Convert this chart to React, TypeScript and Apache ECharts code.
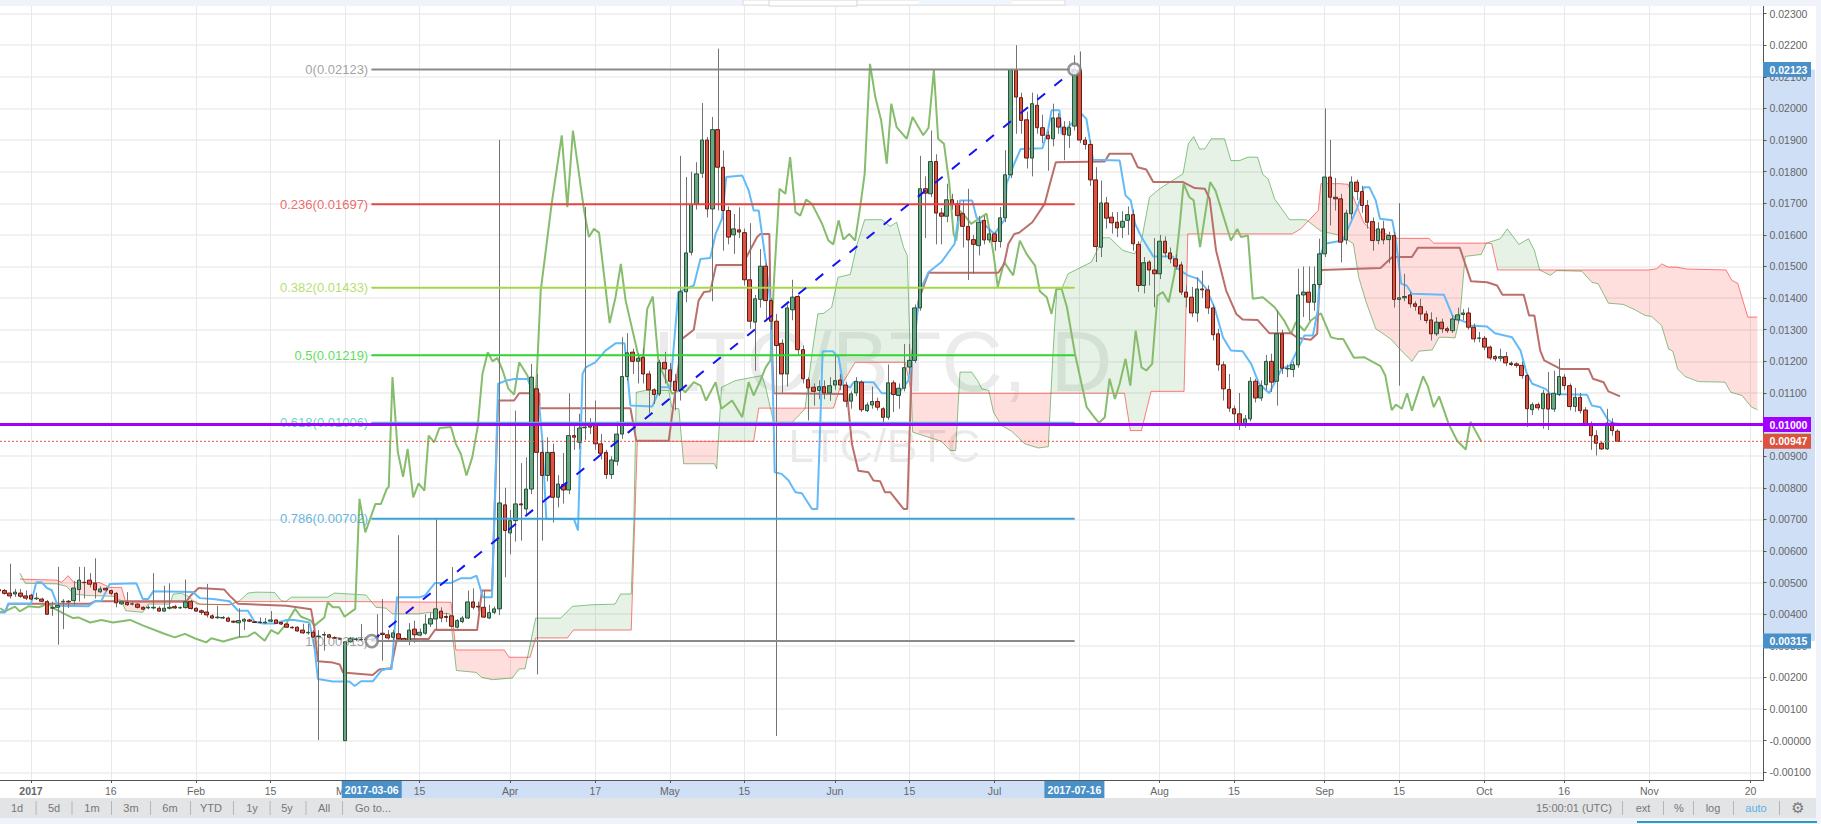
import React, { useEffect, useRef } from "react";
import * as echarts from "echarts";

// All prices in the lists below are in thousandths of BTC (multiplied by MILLI when drawn).
const MILLI = 0.001;
const FONT = "'Liberation Sans', Arial, sans-serif";

// [day since 2017-01-01, open, close, low, high]
const candles: number[][] = [
[-6,4.78,4.74,4.7,4.82],[-5,4.75,4.66,4.62,4.8],[-4,4.67,4.58,4.5,5.6],[-3,4.64,4.7,4.55,4.8],[-2,4.67,4.57,4.52,4.8],[-1,4.58,4.51,4.45,4.75],
[0,4.6,4.48,4.45,4.65],[1,4.49,4.51,4.45,4.68],[2,4.48,4.41,4.38,4.52],[3,4.4,4.0,3.98,4.45],[4,4.19,4.21,3.95,4.4],[5,4.22,4.28,3.04,5.5],[6,4.39,4.41,3.53,4.48],[7,4.41,4.39,4.2,4.45],[8,4.43,4.83,4.3,5.05],[9,4.78,5.08,4.4,5.5],
[10,5.01,5.0,4.5,5.5],[11,5.08,4.95,4.85,5.3],[12,4.98,4.77,4.5,5.77],[13,4.71,4.8,4.68,4.88],[14,4.82,4.77,4.72,4.85],[15,4.75,4.66,4.6,4.78],[16,4.66,4.36,4.22,4.7],[17,4.33,4.39,4.3,4.42],[18,4.37,4.3,4.27,4.7],[19,4.32,4.33,4.28,4.38],
[20,4.32,4.22,4.18,4.35],[21,4.22,4.16,4.13,4.25],[22,4.2,4.22,4.16,4.28],[23,4.2,4.22,4.15,5.3],[24,4.19,4.1,4.08,4.25],[25,4.1,4.19,4.08,4.9],[26,4.19,4.22,4.15,4.98],[27,4.24,4.2,4.17,4.3],[28,4.2,4.21,4.17,4.25],[29,4.21,4.39,4.18,5.1],
[30,4.41,4.18,4.15,4.45],[31,4.19,4.1,4.07,4.22],[32,4.11,4.06,3.98,4.15],[33,4.07,3.98,3.9,4.96],[34,3.95,3.88,3.85,4.0],[35,3.89,3.91,3.85,4.27],[36,3.88,3.9,3.85,3.94],[37,3.88,3.78,3.75,3.92],[38,3.78,3.75,3.72,3.8],[39,3.73,3.8,3.27,4.19],
[40,3.78,3.84,3.5,3.88],[41,3.82,3.78,3.75,3.86],[42,3.76,3.74,3.72,3.78],[43,3.75,3.74,3.71,3.9],[44,3.73,3.75,3.7,3.88],[45,3.78,3.82,3.75,4.1],[46,3.82,3.71,3.69,3.84],[47,3.74,3.69,3.66,3.76],[48,3.69,3.59,3.57,3.72],[49,3.59,3.57,3.55,3.62],
[50,3.59,3.47,3.45,3.62],[51,3.5,3.41,3.38,3.7],[52,3.41,3.43,3.35,3.7],[53,3.43,3.28,3.25,3.5],[54,3.29,3.31,0.02,3.5],[55,3.34,3.36,2.85,3.45],[56,3.35,3.27,3.24,3.38],[57,3.26,3.24,3.22,3.3],[58,3.23,3.21,3.18,3.26],[59,0,3.13,0,3.15],
[60,3.13,3.24,3.1,3.28],[61,3.2,3.22,3.15,3.26],[62,3.2,3.21,3.15,3.69],[63,3.21,3.2,3.15,3.26],[64,3.2,3.22,3.15,3.28],[65,3.27,3.3,3.2,4.0],[66,3.4,3.36,2.53,4.48],[67,3.35,3.25,3.2,3.5],[68,3.27,3.41,3.15,3.5],[69,3.38,3.23,3.18,6.5],
[70,3.23,3.17,3.15,3.26],[71,3.17,3.5,3.02,3.72],[72,3.53,3.35,3.1,3.8],[73,3.34,3.43,3.3,3.55],[74,3.4,3.69,3.35,4.0],[75,3.69,3.86,3.6,4.05],[76,3.85,4.17,3.52,7.0],[77,4.1,3.88,3.75,4.22],[78,3.93,3.9,3.75,4.05],[79,3.95,3.62,3.6,5.49],
[80,3.59,3.8,3.55,3.85],[81,3.77,3.88,3.72,3.95],[82,3.88,4.39,3.85,4.75],[83,4.39,4.22,4.15,4.82],[84,4.25,4.23,4.1,4.4],[85,4.22,3.91,3.88,4.75],[86,3.88,4.05,3.85,4.3],[87,4.06,4.17,4.0,4.25],[88,4.17,7.52,3.97,19.0],[89,7.46,6.65,5.17,8.0],
[90,6.57,6.96,5.9,7.3],[91,6.96,7.49,6.3,10.44],[92,7.49,7.46,6.33,8.78],[93,7.33,7.96,7.15,8.96],[94,7.96,11.5,7.8,11.92],[95,11.13,9.12,2.1,11.6],[96,9.12,8.39,6.33,9.5],[97,8.39,9.12,8.2,9.6],[98,9.12,7.7,6.9,9.4],[99,7.7,8.12,7.38,8.4],
[100,8.1,7.93,7.5,9.1],[101,7.93,9.65,7.8,10.99],[102,9.65,9.6,9.2,9.95],[103,9.44,9.89,9.23,10.34],[104,9.9,9.92,9.5,16.88],[105,9.97,9.92,9.7,10.2],[106,9.97,9.39,9.2,10.76],[107,9.39,9.09,8.9,9.7],[108,9.12,8.42,8.28,9.2],[109,8.42,8.88,8.28,9.0],
[110,8.84,9.7,8.7,10.1],[111,9.7,11.52,9.55,12.76],[112,11.52,12.27,11.39,12.89],[113,12.29,12.0,11.6,12.4],[114,12.0,12.1,11.3,12.25],[115,12.13,11.6,11.3,12.4],[116,11.6,11.1,10.35,11.7],[117,11.1,10.95,10.65,11.15],[118,10.97,11.97,10.9,12.05],[119,11.97,11.76,11.3,12.3],
[120,11.73,11.37,11.1,11.95],[121,11.37,11.08,10.45,11.6],[122,11.1,14.2,10.76,18.5],[123,14.2,15.43,13.87,17.83],[124,15.45,16.96,15.35,18.0],[125,16.98,17.93,16.8,18.3],[126,17.95,19.0,17.8,20.17],[127,19.0,16.82,16.55,19.1],[128,16.82,19.33,13.9,19.73],[129,19.33,18.14,16.77,21.89],
[130,18.14,16.77,15.5,18.67],[131,16.77,15.93,15.7,16.9],[132,16.0,16.19,15.4,16.66],[133,16.16,16.09,15.9,16.87],[134,16.07,14.58,14.4,16.2],[135,14.58,13.27,13.03,16.37],[136,13.24,13.98,11.7,14.1],[137,13.96,15.01,13.7,15.55],[138,15.01,13.92,13.3,15.1],[139,13.92,13.27,13.0,14.0],
[140,13.27,12.5,0.15,13.5],[141,12.57,11.6,11.0,12.7],[142,11.6,13.69,11.2,13.8],[143,13.63,14.03,13.3,14.58],[144,14.05,12.37,12.2,14.1],[145,12.37,11.45,11.3,12.5],[146,11.42,11.16,10.13,11.5],[147,11.18,11.05,10.6,11.3],[148,11.08,11.2,10.8,11.4],[149,11.2,11.0,10.8,11.4],
[150,11.0,11.23,10.75,11.5],[151,11.25,11.39,11.1,12.2],[152,11.41,11.25,11.1,11.6],[153,11.25,10.74,10.55,11.35],[154,10.74,10.97,10.5,11.05],[155,11.0,11.37,10.9,11.5],[156,11.34,10.47,10.4,11.4],[157,10.44,10.62,10.4,10.7],[158,10.62,10.73,10.5,11.2],[159,10.73,10.55,10.45,10.85],
[160,10.5,10.23,10.05,10.55],[161,10.23,11.32,10.15,11.9],[162,11.32,10.95,10.4,11.4],[163,10.92,11.15,10.5,11.3],[164,11.15,11.8,11.05,12.55],[165,11.82,12.03,11.6,12.55],[166,12.03,13.69,11.95,13.8],[167,13.69,17.46,13.6,18.5],[168,17.46,17.32,15.9,17.85],[169,17.3,18.32,17.2,19.3],
[170,18.32,16.69,15.7,18.55],[171,16.69,16.59,15.7,16.85],[172,16.59,17.11,16.4,17.62],[173,17.11,16.96,16.8,17.3],[174,16.98,16.61,16.45,17.1],[175,16.67,16.27,15.6,17.09],[176,16.27,15.84,14.57,17.46],[177,15.85,15.7,14.77,16.0],[178,15.66,16.4,15.35,16.6],[179,16.46,15.84,15.7,16.6],
[180,15.84,16.03,15.75,16.2],[181,16.03,15.79,15.5,16.1],[182,15.79,16.54,15.6,16.88],[183,16.54,17.9,16.4,18.68],[184,17.9,21.22,17.8,21.25],[185,21.2,20.36,19.2,22.0],[186,20.34,19.62,19.2,20.5],[187,19.64,18.43,18.1,19.9],[188,18.43,20.15,17.85,20.5],[189,20.1,19.39,19.2,20.45],
[190,19.39,19.15,18.9,19.8],[191,19.15,19.04,18.03,19.3],[192,19.04,19.7,18.8,20.15],[193,19.7,19.41,19.2,19.85],[194,19.41,19.17,18.36,19.6],[195,19.15,19.39,18.75,19.6],[196,19.44,21.22,19.3,21.68],[197,21.22,19.0,18.9,21.8],[198,19.0,18.86,18.7,19.1],[199,18.86,17.74,17.55,19.0],
[200,17.74,15.63,15.14,18.14],[201,15.61,17.01,15.3,17.72],[202,17.01,16.53,16.2,17.2],[203,16.56,16.38,16.04,16.72],[204,16.4,16.22,15.93,16.72],[205,16.24,16.43,15.9,16.75],[206,16.46,16.64,16.0,16.9],[207,16.64,15.72,15.5,16.8],[208,15.7,14.4,14.2,15.8],[209,14.4,15.12,14.15,15.3],
[210,15.14,14.89,14.4,15.2],[211,14.89,14.77,13.71,15.9],[212,14.77,15.8,14.6,16.0],[213,15.8,15.43,15.3,15.95],[214,15.43,15.24,15.1,15.6],[215,15.24,15.01,14.9,15.4],[216,15.05,14.19,14.1,15.15],[217,14.19,14.03,13.71,14.4],[218,14.03,13.53,13.4,14.35],[219,13.53,14.29,13.24,14.66],
[220,14.29,14.26,14.0,14.87],[221,14.26,13.69,13.5,14.4],[222,13.69,12.84,12.66,13.8],[223,12.87,11.89,11.7,13.03],[224,11.89,11.13,10.76,12.0],[225,11.11,10.52,10.4,11.6],[226,10.5,10.34,9.97,10.6],[227,10.34,10.0,9.83,11.0],[228,10.0,10.18,9.9,10.3],[229,10.18,11.37,10.1,11.5],
[230,11.37,10.84,10.7,11.45],[231,10.84,11.23,10.75,11.4],[232,11.26,12.0,11.1,12.2],[233,12.0,11.34,11.03,12.24],[234,11.37,12.87,10.6,13.61],[235,12.87,11.78,11.6,13.0],[236,11.76,11.78,11.5,11.9],[237,11.74,11.89,11.5,12.0],[238,11.89,14.1,11.8,14.93],[239,14.1,14.19,13.4,15.0],
[240,14.19,13.87,13.29,15.0],[241,13.87,14.43,13.6,15.0],[242,14.43,15.4,14.3,15.88],[243,15.4,17.83,15.3,20.0],[244,17.83,17.19,16.3,19.0],[245,17.19,17.14,16.77,17.8],[246,17.14,15.77,15.13,17.3],[247,15.84,16.69,15.7,16.8],[248,16.67,17.67,16.5,17.85],[249,17.67,17.37,17.1,17.75],
[250,17.37,16.93,16.7,17.55],[251,16.93,16.4,16.2,17.1],[252,16.42,15.82,15.5,16.55],[253,15.82,16.19,15.7,16.4],[254,16.19,15.84,15.7,16.45],[255,15.85,15.98,15.1,16.1],[256,15.98,13.96,13.7,16.1],[257,13.96,14.01,11.23,17.0],[258,14.01,14.05,13.9,14.77],[259,14.1,13.82,13.7,14.2],
[260,13.82,13.74,13.6,13.9],[261,13.73,13.5,13.3,13.98],[262,13.5,13.29,13.2,13.6],[263,13.31,12.87,12.66,13.55],[264,12.87,13.24,12.8,13.4],[265,13.24,13.03,12.9,13.35],[266,13.03,12.97,12.9,13.1],[267,12.97,13.34,12.9,13.45],[268,13.31,13.47,13.2,13.7],[269,13.48,13.53,13.3,13.65],
[270,13.53,13.08,13.0,13.7],[271,13.08,12.71,12.6,13.2],[272,12.73,12.74,12.6,12.93],[273,12.73,12.45,12.35,12.8],[274,12.45,12.11,12.05,12.5],[275,12.15,12.08,12.0,12.2],[276,12.1,12.15,12.0,12.4],[277,12.15,11.95,11.85,12.3],[278,11.94,11.9,11.85,12.0],[279,11.92,11.87,11.8,11.97],
[280,11.87,11.55,11.45,12.0],[281,11.55,10.5,9.92,11.6],[282,10.47,10.63,10.3,10.7],[283,10.63,10.53,10.45,10.7],[284,10.5,10.99,9.87,11.1],[285,10.97,10.49,9.83,11.66],[286,10.49,10.99,10.4,11.7],[287,10.95,11.52,10.9,12.08],[288,11.5,11.23,11.1,11.6],[289,11.23,10.57,10.45,11.3],
[290,10.57,10.86,10.4,11.16],[291,10.86,10.44,10.35,11.0],[292,10.46,10.02,9.98,10.55],[293,10.02,9.65,9.2,10.1],[294,9.65,9.41,9.02,9.82],[295,9.41,9.23,9.2,9.45],[296,9.23,10.05,9.2,10.5],[297,10.05,9.81,9.65,10.2],[298,9.79,9.47,9.47,9.85],
];

// Ichimoku lines, vertices: [day, price]
const tenkan: number[][] = [
[-5.8,4.06],[-4.9,4.06],[-4.25,4.33],[0,4.33],[1,5.01],[2,5.01],[3,4.83],[3.9,4.76],[5,4.27],[10.75,4.25],[12,4.41],[13.25,4.43],[14.8,4.96],[19.8,4.98],[21,4.48],[22,4.48],[23,4.73],[30.4,4.7],[31.7,4.51],[34.2,4.48],[37.3,4.41],[38.9,4.11],[40.75,4.11],[42,3.76],[43.6,3.71],[45.75,3.71],[48,3.82],[49.5,3.82],[52.3,3.74],[53.25,2.95],[53.9,1.95],[56.7,1.87],[59.8,1.87],[60.8,1.73],[62,1.88],[64.2,1.88],[65.8,2.22],[66.7,2.27],[67.75,2.27],[68.75,4.54],[72.9,4.54],[74,4.59],[75.9,4.99],[78.9,4.99],[80.8,5.14],[82.6,5.14],[83.7,5.22],[84.9,4.54],[86.6,4.54],[87.75,11.29],[89.2,11.39],[90.75,11.44],[93.3,11.44],[95.5,10.55],[96.06,9.49],[96.8,7.01],[102,7.01],[102.75,6.65],[103.6,11.6],[104.2,11.81],[106,11.97],[107.9,12.34],[109.8,12.57],[111.5,12.57],[112.6,10.6],[116.7,10.57],[118.25,11.18],[120.1,11.18],[121.6,14.19],[124.5,14.4],[125.75,15.24],[127.6,15.27],[128.6,16.03],[129.8,16.51],[130.6,17.83],[133.6,17.88],[134.8,17.41],[135.75,16.77],[136.7,16.77],[138,15.19],[138.9,13.82],[139.5,10.13],[139.7,8.49],[141,8.44],[142.3,8.23],[143.6,7.86],[144.8,7.83],[146.7,7.33],[147.7,7.33],[148.3,10.23],[148.7,12.32],[150.6,12.32],[151.7,12.13],[152.6,11.23],[153.9,11.18],[154.5,11.34],[158.25,11.34],[159.8,10.99],[163,10.99],[164.8,11.39],[165.75,12.24],[166.6,13.71],[167.3,14.35],[168.6,14.82],[171,15.14],[173.5,15.72],[174.2,16.56],[174.5,17.09],[176.8,17.09],[177.6,16.56],[181,16.03],[183,16.51],[183.25,17.62],[184.7,18.25],[185.9,18.72],[190,18.74],[191.1,19.36],[191.7,19.94],[193.2,19.94],[193.6,19.2],[197.3,19.83],[198.25,19.67],[199.5,18.38],[204.5,18.35],[205.6,17.25],[206.6,17.09],[207.4,16.35],[208.6,15.93],[210.8,15.32],[214.5,15.32],[215.4,14.93],[217.3,14.72],[219.2,14.61],[220.8,14.29],[222.3,13.71],[223.9,12.76],[225.4,12.34],[227.6,12.32],[229.2,11.92],[230.7,11.29],[232.6,10.99],[234.9,11.76],[236.5,11.87],[239.2,12.82],[240.8,12.82],[241.7,13.61],[242.3,15.4],[243,15.72],[245.6,15.8],[246.4,15.82],[249.2,16.88],[250.4,17.51],[251.4,17.51],[252.6,17.09],[253.4,16.51],[255.7,16.46],[256.3,15.93],[257.4,14.45],[258.4,14.4],[259.4,14.14],[265.4,14.11],[267,13.45],[267.9,13.34],[269.5,13.24],[270.4,13.13],[273.5,13.1],[275,12.89],[278.2,12.76],[279.8,12.34],[281,11.6],[282,11.29],[284.5,11.13],[285.4,10.97],[292.3,10.94],[293.2,10.6],[294.8,10.55],[296.3,10.13],[297.3,10.04],[298.5,10.02],
];
const kijun: number[][] = [
[-5.8,4.06],[-4.9,4.06],[-4.25,4.33],[11,4.33],[12,4.41],[29.2,4.41],[30,4.59],[31.5,4.83],[36.3,4.78],[37.3,4.59],[38.9,4.33],[48,4.27],[52.6,4.16],[53.25,3.54],[53.9,2.51],[56.7,2.47],[58,2.41],[58.6,2.16],[64.2,2.08],[65.4,2.25],[67.6,2.29],[68.75,3.22],[74.7,3.22],[75.9,3.51],[83.8,3.5],[84.7,4.75],[86.6,4.75],[87.75,10.76],[90.75,10.76],[91.7,10.99],[95.5,10.99],[95.5,10.52],[112.6,10.52],[113.7,9.49],[119.8,9.49],[122.3,12.71],[124.5,13],[125.4,13.92],[126.4,14.19],[127.6,14.22],[128.7,15.05],[133.6,15.05],[136.4,15.93],[137,16.03],[138.7,16.03],[138.9,13.82],[139.5,10.99],[153.3,10.97],[154.2,9.39],[155.4,8.54],[157.3,8.49],[158.25,8.23],[159.5,8.21],[160.4,7.86],[161.4,7.86],[163.9,7.33],[164.6,7.33],[165.5,12.2],[166.7,13.9],[167.6,14.35],[168.6,14.8],[181.7,14.8],[182.8,15.08],[183.6,15.72],[184.7,16.03],[185.6,16.07],[188.1,16.4],[190.4,16.98],[191.4,17.62],[192.5,18.3],[201.7,18.32],[202.6,18.57],[206.7,18.57],[207.9,18.14],[209.5,18.07],[210.8,17.67],[216.4,17.67],[218.6,17.48],[220.5,17.46],[221.4,17.14],[222.6,15.51],[224.5,14.24],[226.4,13.5],[227.6,13.32],[230.4,13.31],[232.6,12.89],[236.7,12.89],[237.9,12.74],[240.4,12.68],[241.6,12.87],[242,14.35],[242.4,14.89],[253.5,14.95],[255.7,15.3],[259.4,15.3],[260.5,15.59],[268.4,15.59],[270.5,14.53],[273.5,14.5],[275.4,14.4],[276.4,14.11],[280.4,14.11],[281.4,13.45],[282.4,13.45],[283.5,12.34],[284.25,12.03],[287.3,11.76],[292.6,11.76],[293.4,11.45],[295.4,11.34],[296.3,11.05],[298.5,10.89],
];
const chikou: number[][] = [
[-5.8,4.19],[-4.9,4.09],[-3,4.24],[-2.1,4.09],[-0.5,4.25],[1.4,4.22],[2.3,4.27],[2.9,4.38],[4.5,4.17],[6.1,4.03],[7.9,3.88],[8.9,3.9],[11.1,3.74],[13.25,3.82],[15.4,3.74],[18.6,3.82],[21.1,3.64],[24.8,3.4],[27,3.27],[28.9,3.38],[30.75,3.24],[32.9,3.11],[33.9,3.24],[36.1,3.14],[38.9,3.27],[40.75,3.3],[42,3.43],[43.9,3.16],[45.1,3.5],[46.4,3.38],[47.9,3.69],[49.6,4.17],[50.75,3.92],[52.6,3.8],[53.25,3.64],[55.1,3.9],[55.75,4.38],[56.7,4.22],[57.9,4.22],[58.9,3.92],[60.9,4.17],[61.7,7.65],[62.8,6.59],[64.7,7.49],[65.75,7.49],[66.8,7.96],[67.2,8.03],[67.9,11.5],[68.9,9.13],[69.9,8.35],[70.75,9.23],[71.8,7.7],[72.8,8.14],[73.9,7.91],[74.7,9.65],[75.75,9.44],[76.7,9.89],[78.9,9.92],[79.8,9.39],[80.75,9.07],[81.8,8.39],[82.9,8.97],[83.9,9.92],[84.8,11.6],[85.8,12.29],[86.7,12],[87.6,12.11],[88.6,11.71],[89.7,11.13],[90.75,10.95],[91.7,11.97],[93.25,11.55],[94.2,10.97],[94.9,11.18],[95.75,14.24],[97.8,16.98],[99.7,19.15],[100.75,16.88],[101.8,19.3],[103.9,16.77],[104.8,15.93],[105.75,16.19],[106.7,16.07],[108.7,13.21],[109.8,14.03],[110.8,15.08],[111.7,13.92],[114,12.24],[114.9,11.92],[115.75,13.66],[116.8,14.05],[117.9,11.92],[119.2,11.44],[120.4,10.97],[122.3,11.13],[122.9,11.02],[124.5,11.34],[125.75,11.23],[126.8,10.76],[128.6,11.34],[129.7,10.5],[131.7,10.76],[133.6,10.23],[134.8,11.34],[135.75,10.92],[137,11.39],[138,11.81],[138.9,12.03],[139.6,14.66],[140.6,17.46],[141.7,17.3],[142.6,18.46],[143.6,16.72],[144.5,16.61],[145.6,17.12],[146.7,16.98],[148.6,16.35],[149.8,15.82],[150.7,15.7],[151.7,16.46],[152.6,15.85],[153.7,16.03],[154.8,15.82],[155.75,16.88],[156.6,17.93],[157.6,21.41],[158.6,20.36],[159.7,19.62],[160.75,18.25],[161.6,20.15],[162.6,19.41],[164.5,19.04],[165.6,19.73],[167.6,19.15],[168.6,19.39],[169.6,21.22],[170.4,19.04],[171.5,18.88],[172.5,17.62],[173.3,16.03],[173.8,15.82],[174.5,16.77],[175.6,16.56],[176.6,16.35],[179.5,16.67],[180.8,15.4],[181.6,14.35],[182.8,15.14],[184.5,14.72],[185.75,15.82],[187,15.4],[188.6,15.03],[189.5,14.22],[190.8,14.03],[191.7,13.5],[192.6,14.29],[193.6,14.29],[194.6,13.71],[196.1,12.24],[198.3,10.55],[199.5,10.28],[200.6,10.05],[201.7,10.23],[202.6,11.45],[203.6,10.81],[204.5,11.29],[205.6,12.08],[206.5,11.23],[207.5,12.97],[208.6,11.81],[209.5,11.71],[210.6,11.92],[211.6,14.08],[212.6,14.19],[213.7,13.87],[214.8,14.77],[215.75,16.25],[216.5,17.62],[217.6,17.19],[218.4,17.09],[219.6,15.61],[221.5,17.67],[222.5,17.4],[225.4,15.82],[226.6,16.19],[227.3,15.93],[228.6,15.98],[229.5,13.98],[231.4,14.03],[233.6,13.71],[235.4,13.29],[236.7,12.87],[237.6,13.24],[239.2,12.97],[240.4,13.29],[242.3,13.52],[244.2,12.76],[245.4,12.71],[246.5,12.71],[248.5,12.11],[250.4,12.13],[253.5,11.85],[254.4,11.55],[255.6,10.46],[256.4,10.63],[257.5,10.5],[258.5,10.99],[259.4,10.44],[261.5,11.53],[262.4,11.21],[263.5,10.55],[264.5,10.89],[266.3,10.02],[267.9,9.49],[269.5,9.21],[270.4,10.09],[272.4,9.47],
];
const spanA: number[][] = [
[-2.06,5.3],[-1.1,4.98],[4.8,4.96],[6.7,4.88],[8,4.64],[10.75,4.59],[15.4,4.57],[17,4.43],[17.8,4.11],[21,4.06],[22,4.32],[26.1,4.32],[26.7,4.64],[28.3,4.66],[29.8,4.54],[31.1,4.32],[37.3,4.3],[39.2,4.43],[40.75,4.67],[42.3,4.7],[45.75,4.69],[47,4.43],[47.9,4.41],[48.9,4.54],[55.75,4.54],[57,4.67],[62.9,4.61],[64.8,4.22],[66.7,4.19],[67.9,4.01],[72.8,4.01],[74.8,4.06],[78.7,4.01],[79.5,2.85],[79.9,2.22],[83.6,2.16],[84.7,2.0],[86.7,1.93],[90.4,1.98],[91.7,2.27],[92.8,2.27],[94.8,3.88],[99.5,3.88],[101.7,4.25],[105.4,4.3],[109.7,4.32],[110.75,4.64],[112.75,4.64],[113.25,6.96],[113.7,11.02],[115.4,11.08],[119.8,11.08],[120.4,10.53],[121.7,10.5],[122.6,8.76],[128.4,8.76],[128.8,8.6],[129.7,11.18],[132.3,11.39],[137.3,11.55],[138,11.18],[139.5,10.07],[143,10.07],[145.4,10.5],[146.7,12.24],[147.8,13.5],[148.9,13.52],[150.4,13.71],[151.6,14.66],[153.9,14.75],[155.2,15.72],[156.6,16.48],[159.8,16.48],[161.4,16.27],[162.6,16.4],[163.9,15.61],[164.6,15.35],[165.6,9.76],[171,9.47],[172.7,9.18],[173.7,9.18],[174.5,11.66],[176.7,11.66],[178,11.34],[178.6,11.13],[179.9,11.08],[180.8,10.39],[182.3,9.97],[184.2,9.79],[186.7,9.39],[189.2,9.26],[191.1,9.3],[191.9,12.03],[192.7,14.29],[193.6,14.29],[194.8,14.77],[199.2,15.14],[201.4,15.91],[202.6,15.91],[205.1,15.51],[207.3,15.4],[208.6,15.82],[210.1,17.19],[212,17.46],[216.4,17.93],[217.4,18.88],[218.4,19.11],[219.5,18.72],[220.5,18.72],[221.7,19.04],[224.2,19.04],[225.4,18.35],[227,18.35],[228.6,18.46],[230.4,18.46],[231.4,17.91],[232.4,17.77],[233.6,17.14],[236.4,16.48],[239.5,16.48],[242.3,16.12],[246,15.98],[248.4,15.72],[249.4,14.66],[250.7,13.92],[252.6,13.03],[255.4,12.71],[257.4,12.34],[259.4,12],[260.7,12.32],[263.2,12.36],[264.5,12.76],[266,12.76],[267.5,12.74],[268.4,13.4],[269.4,15.32],[272.4,15.38],[273.4,15.74],[276,15.88],[277.3,16.19],[279.5,15.7],[281.3,15.88],[282.4,15.51],[283.4,14.89],[285.4,14.72],[286.6,14.87],[291.3,14.85],[293.2,14.5],[294.4,14.45],[296.3,13.84],[299.1,13.8],[301.3,13.63],[303.2,13.45],[304.4,13.42],[306.3,13.13],[307.6,12.39],[308.4,12.32],[309.3,11.76],[310.7,11.52],[313.2,11.36],[318.2,11.34],[319.3,11.02],[321.4,10.92],[323.2,10.55],[324.3,10.47],
];
const spanB: number[][] = [
[-2.06,5.11],[4.8,5.08],[5.75,5.01],[7,5.22],[8,5.01],[12.9,5],[14.8,4.85],[17,4.85],[17.8,4.38],[29.2,4.38],[30.75,4.41],[31.7,4.32],[37.3,4.3],[38.9,4.4],[59.8,4.4],[78.9,4.38],[79.8,2.87],[88.9,2.87],[89.8,2.64],[93.75,2.64],[94.8,3.25],[100.75,3.25],[101.9,3.5],[112.75,3.5],[113.9,9.47],[135.75,9.47],[136.7,10.52],[150.75,10.52],[152,11.18],[154.8,11.97],[164.2,11.97],[165.4,10.99],[205.4,10.99],[206.5,9.81],[208.6,9.81],[210.4,11.05],[216.6,11.05],[217.3,16.03],[236.9,16.03],[238.5,16.19],[241.8,16.77],[242.3,17.62],[245.8,17.62],[247.4,17.6],[250.4,16.37],[251.6,16.19],[256,15.95],[256.6,15.89],[262.6,15.89],[263.5,15.74],[273.5,15.74],[274.4,15.72],[275.5,14.89],[303.8,14.89],[305.4,14.93],[306.3,15.08],[307.6,14.98],[309.1,14.98],[311.1,14.92],[318.4,14.89],[319.5,14.56],[320.6,14.47],[322.5,13.4],[324.3,13.4],
];

// Fibonacci retracement drawn between these two days
const fibStartDay = 64;
const fibEndDay = 196;
const fibRatios = ["0", "0.236", "0.382", "0.5", "0.618", "0.786", "1"];
const fibPrices = [0.02123, 0.01697, 0.01433, 0.01219, 0.01006, 0.00702, 0.00315];
const fibColors = ["#8a8a8a", "#e64545", "#a5d648", "#2fd62f", "#35c9b0", "#3aa3d6", "#8a8a8a"];

const horizontalLevel = 0.01;
const lastPrice = 0.00947;

// Axes
const dayMin = -5.823;
const dayMax = 325.44;
const priceMin = -0.001243;
const priceMax = 0.02324;
const xTickDays = [0, 15, 31, 45, 59, 73, 90, 106, 120, 134, 151, 165, 181, 197, 212, 226, 243, 257, 273, 288, 304, 323];
const xTickLabels = ["2017", "16", "Feb", "15", "Mar", "15", "Apr", "17", "May", "15", "Jun", "15", "Jul", "17", "Aug", "15", "Sep", "15", "Oct", "16", "Nov", "20"];
const priceTicks = [-0.001, 0, 0.001, 0.002, 0.003, 0.004, 0.005, 0.006, 0.007, 0.008, 0.009, 0.01, 0.011, 0.012, 0.013, 0.014, 0.015, 0.016, 0.017, 0.018, 0.019, 0.02, 0.021, 0.022, 0.023];

// Toolbars
const rangeButtons = ["1d", "5d", "1m", "3m", "6m", "YTD", "1y", "5y", "All", "Go to..."];
const rangeCenters = [17, 54, 92, 131, 170, 211, 252, 287, 324, 373];
const rangeSeparators = [35.6, 71.5, 111, 150, 190, 233, 269.6, 305.5, 342];
const rightButtons = ["15:00:01 (UTC)", "ext", "%", "log", "auto"];
const rightCenters = [1574, 1643, 1679, 1713, 1756];
const rightSeparators = [1622, 1663, 1693, 1733, 1779];

const UP = "#6ba583";
const UP_BORDER = "#225437";
const DOWN = "#d75442";
const DOWN_BORDER = "#6b1a12";
const WICK = "#737375";
const TAG_BLUE = "#4a90c8";
const BAND = "#cfdff6";

function interp(line: number[][], d: number): number {
  for (let i = 1; i < line.length; i++) {
    if (d <= line[i][0]) {
      const [d0, v0] = line[i - 1];
      const [d1, v1] = line[i];
      return d1 === d0 ? v1 : v0 + ((v1 - v0) * (d - d0)) / (d1 - d0);
    }
  }
  return line[line.length - 1][1];
}

// Split the space between the two spans into polygons of one colour each.
function buildKumo() {
  const days = Array.from(new Set([...spanA.map((p) => p[0]), ...spanB.map((p) => p[0])])).sort((a, b) => a - b);
  const runs: { up: boolean; top: number[][]; bottom: number[][] }[] = [];
  let cur: { up: boolean; top: number[][]; bottom: number[][] } | null = null;
  for (let i = 0; i < days.length; i++) {
    const d = days[i];
    const a = interp(spanA, d);
    const b = interp(spanB, d);
    const up = a >= b;
    if (cur && cur.up !== up) {
      const pd = days[i - 1];
      const pa = interp(spanA, pd);
      const pb = interp(spanB, pd);
      const t = (pb - pa) / (a - pa - (b - pb));
      const cd = pd + t * (d - pd);
      const cv = pa + t * (a - pa);
      cur.top.push([cd, cv]);
      cur.bottom.push([cd, cv]);
      runs.push(cur);
      cur = { up, top: [[cd, cv]], bottom: [[cd, cv]] };
    }
    if (!cur) cur = { up, top: [], bottom: [] };
    cur.top.push([d, a]);
    cur.bottom.push([d, b]);
  }
  if (cur) runs.push(cur);
  return runs;
}

const scaled = (pts: number[][]) => pts.map(([d, v]) => [d, v * MILLI]);

const lineSeries = (name: string, pts: number[][], color: string, width: number, z: number) => ({
  name,
  type: "line",
  data: scaled(pts),
  showSymbol: false,
  symbol: "none",
  smooth: false,
  silent: true,
  z,
  lineStyle: { color, width },
  itemStyle: { color },
});

export default function App() {
  const ref = useRef<HTMLDivElement>(null);
  useEffect(() => {
    const chart = echarts.init(ref.current as HTMLDivElement, undefined, { renderer: "svg" });
    const runs = buildKumo();

    const fibSeries = fibPrices.map((price, i) => ({
      name: `fib ${fibRatios[i]}`,
      type: "line",
      silent: true,
      z: 8,
      showSymbol: true,
      showAllSymbol: true,
      symbol: "circle",
      symbolSize: 1,
      itemStyle: { color: fibColors[i] },
      lineStyle: { color: fibColors[i], width: 2 },
      data: [
        {
          value: [fibStartDay, price],
          label: {
            show: true,
            position: "left",
            distance: 3,
            formatter: `${fibRatios[i]}(${price.toFixed(5)})`,
            color: fibColors[i],
            opacity: 0.8,
            fontFamily: FONT,
            fontSize: 13,
          },
        },
        { value: [fibEndDay, price] },
      ],
    }));

    chart.setOption({
      animation: false,
      backgroundColor: "#ffffff",
      grid: { left: 0, top: 6, right: 57.5, bottom: 44, containLabel: false },
      xAxis: {
        type: "value",
        min: dayMin,
        max: dayMax,
        axisLine: { show: true, onZero: false, lineStyle: { color: "#555", width: 1 } },
        axisTick: { show: true, length: 3, customValues: xTickDays, lineStyle: { color: "#555" } },
        splitLine: { show: true, lineStyle: { color: "#e9e9e9", width: 1 } },
        axisLabel: {
          customValues: xTickDays,
          color: "#666",
          fontFamily: FONT,
          fontSize: 10.5,
          margin: 5,
          formatter: (v: number) => {
            const s = xTickLabels[xTickDays.indexOf(Math.round(v))] ?? "";
            return s === "2017" ? `{b|${s}}` : s;
          },
          rich: { b: { fontWeight: "bold", color: "#666", fontFamily: FONT, fontSize: 10.5 } },
        },
      },
      yAxis: {
        type: "value",
        position: "right",
        min: priceMin,
        max: priceMax,
        axisLine: { show: true, onZero: false, lineStyle: { color: "#555", width: 1 } },
        axisTick: { show: true, length: 3, customValues: priceTicks, lineStyle: { color: "#555" } },
        splitLine: { show: true, lineStyle: { color: "#ededed", width: 1.5 } },
        axisLabel: {
          customValues: priceTicks,
          color: "#666",
          fontFamily: FONT,
          fontSize: 10.5,
          margin: 6,
          formatter: (v: number) => (Math.abs(v) < 1e-9 ? "-0.00000" : v.toFixed(5)),
        },
      },
      series: [
        {
          name: "kumo",
          type: "custom",
          silent: true,
          z: 1,
          clip: true,
          data: runs.map((r, i) => [r.top[0][0], r.top[0][1] * MILLI, i]),
          renderItem: (params: any, api: any) => {
            const r = runs[params.dataIndex];
            const pts = [...r.top, ...r.bottom.slice().reverse()].map(([d, v]) => api.coord([d, v * MILLI]));
            return {
              type: "polygon",
              shape: { points: pts },
              style: { fill: r.up ? "rgba(0,128,0,0.1)" : "rgba(255,0,0,0.13)", stroke: "none" },
            };
          },
        },
        lineSeries("Senkou A", spanA, "rgba(0,128,0,0.45)", 1, 2),
        lineSeries("Senkou B", spanB, "rgba(255,0,0,0.5)", 1, 2),
        lineSeries("Chikou", chikou, "#86bd6d", 2, 3),
        lineSeries("Kijun", kijun, "#bb6f6b", 2, 3),
        lineSeries("Tenkan", tenkan, "#62bbf8", 2, 3),
        {
          name: "wicks",
          type: "custom",
          silent: true,
          z: 4,
          data: candles.map((c) => [c[0], c[3] * MILLI, c[4] * MILLI]),
          encode: { x: 0, y: [1, 2] },
          renderItem: (_: any, api: any) => {
            const a = api.coord([api.value(0), api.value(1)]);
            const b = api.coord([api.value(0), api.value(2)]);
            const x = Math.round(a[0]) + 0.5;
            return {
              type: "line",
              shape: { x1: x, y1: a[1], x2: x, y2: b[1] },
              style: { stroke: WICK, lineWidth: 1 },
            };
          },
        },
        {
          name: "LTC/BTC",
          type: "candlestick",
          silent: true,
          z: 5,
          barWidth: 4,
          itemStyle: { color: UP, color0: DOWN, borderColor: UP_BORDER, borderColor0: DOWN_BORDER, borderWidth: 1 },
          encode: { x: 0, y: [1, 2, 3, 4] },
          // Wicks are drawn by the series above in their own grey, so the body spans open to close only.
          data: candles.map(([d, o, c]) => [d, o * MILLI, c * MILLI, Math.min(o, c) * MILLI, Math.max(o, c) * MILLI]),
        },
        ...fibSeries,
        {
          name: "trend",
          type: "line",
          silent: true,
          z: 9,
          showSymbol: false,
          symbol: "none",
          lineStyle: { color: "#1414f0", width: 2, type: [10, 12] },
          data: [
            [fibStartDay, fibPrices[6]],
            [fibEndDay, fibPrices[0]],
          ],
        },
        {
          name: "anchors",
          type: "scatter",
          silent: true,
          z: 10,
          symbol: "circle",
          symbolSize: 12,
          itemStyle: { color: "#ffffff", borderColor: "#7c7c7c", borderWidth: 2.5 },
          data: [
            [fibStartDay, fibPrices[6]],
            [fibEndDay, fibPrices[0]],
          ],
        },
        {
          name: "last price",
          type: "line",
          silent: true,
          z: 6,
          showSymbol: false,
          symbol: "none",
          lineStyle: { color: "#e2553f", width: 1, type: [2, 2] },
          data: [
            [dayMin, lastPrice],
            [dayMax, lastPrice],
          ],
        },
        {
          name: "level",
          type: "line",
          silent: true,
          z: 9,
          showSymbol: false,
          symbol: "none",
          lineStyle: { color: "#a000ff", width: 3 },
          data: [
            [dayMin, horizontalLevel],
            [dayMax, horizontalLevel],
          ],
        },
      ],
    });

    const px = (d: number, p: number) => chart.convertToPixel({ xAxisIndex: 0, yAxisIndex: 0 }, [d, p]) as number[];
    const [axisX] = px(dayMax, 0);
    const [, axisY] = px(0, priceMin);

    const priceTag = (price: number, color: string) => {
      const y = px(0, price)[1];
      return [
        { type: "rect", z: 60, shape: { x: axisX - 0.5, y: y - 7.5, width: 48, height: 15 }, style: { fill: color } },
        {
          type: "text",
          z: 61,
          x: axisX + 6,
          y,
          style: { text: price.toFixed(5), fill: "#fff", font: `bold 10.5px ${FONT}`, textAlign: "left", textVerticalAlign: "middle" },
        },
      ];
    };
    const dateTag = (day: number, label: string) => {
      const x = px(day, 0)[0];
      return [
        { type: "rect", z: 60, shape: { x: x - 30, y: axisY + 1, width: 60, height: 17 }, style: { fill: TAG_BLUE } },
        {
          type: "text",
          z: 61,
          x,
          y: axisY + 10,
          style: { text: label, fill: "#fff", font: `bold 10.5px ${FONT}`, textAlign: "center", textVerticalAlign: "middle" },
        },
      ];
    };
    const barText = (text: string, x: number, color = "#777", font = `11px ${FONT}`) => ({
      type: "text",
      z: 52,
      x,
      y: 808,
      style: { text, fill: color, font, textAlign: "center", textVerticalAlign: "middle" },
    });
    const sep = (x: number) => ({
      type: "rect",
      z: 51,
      shape: { x, y: 801, width: 1, height: 14 },
      style: { fill: "#b5b5b8" },
    });
    const x0 = px(fibStartDay, 0)[0];
    const x1 = px(fibEndDay, 0)[0];
    const yTop = px(0, fibPrices[0])[1];
    const yBot = px(0, fibPrices[6])[1];

    chart.setOption({
      graphic: [
        // watermark
        { type: "text", z: -1, x: 653, y: 361, style: { text: "LTC/BTC, D", fill: "rgba(30,30,40,0.09)", font: `85.5px ${FONT}`, textVerticalAlign: "middle" } },
        { type: "text", z: -1, x: 788, y: 445, style: { text: "LTC/BTC", fill: "rgba(30,30,40,0.09)", font: `47px ${FONT}`, textVerticalAlign: "middle" } },
        // page surround
        { type: "rect", z: 50, shape: { x: 0, y: 0, width: 1821, height: 6 }, style: { fill: "#f0f3fa" } },
        { type: "rect", z: 50, shape: { x: 1816, y: 0, width: 5, height: 824 }, style: { fill: "#f0f3fa" } },
        { type: "rect", z: 50, shape: { x: 0, y: 798, width: 1821, height: 26 }, style: { fill: "#f0f3fa" } },
        { type: "rect", z: 50, shape: { x: 0, y: 798, width: 1816, height: 20 }, style: { fill: "#e3e4e6" } },
        { type: "rect", z: 51, shape: { x: 1637, y: 821, width: 180, height: 2 }, style: { fill: "#2a9cc8" } },
        // top floating toolbar edge
        { type: "rect", z: 51, shape: { x: 743, y: 0, width: 322, height: 5 }, style: { fill: "#ffffff", stroke: "#dcdcdc", lineWidth: 1 } },
        { type: "rect", z: 52, shape: { x: 919, y: 0, width: 93, height: 4 }, style: { fill: "#eef7fd" } },
        { type: "rect", z: 52, shape: { x: 769, y: 0, width: 88, height: 6 }, style: { fill: "#ffffff", stroke: "#d4d4d4", lineWidth: 1 } },
        // selection bands on both axes
        { type: "rect", z: -1, shape: { x: x0, y: axisY + 1, width: x1 - x0, height: 17 }, style: { fill: BAND } },
        { type: "rect", z: -1, shape: { x: axisX + 0.5, y: yTop, width: 51, height: yBot - yTop }, style: { fill: BAND } },
        ...priceTag(fibPrices[0], TAG_BLUE),
        ...priceTag(fibPrices[6], TAG_BLUE),
        ...priceTag(horizontalLevel, "#a000ff"),
        ...priceTag(lastPrice, "#d9533f"),
        ...dateTag(fibStartDay, "2017-03-06"),
        ...dateTag(fibEndDay, "2017-07-16"),
        ...rangeButtons.map((t, i) => barText(t, rangeCenters[i])),
        ...rangeSeparators.map(sep),
        ...rightButtons.map((t, i) => barText(t, rightCenters[i], t === "auto" ? "#5ab0e8" : "#777")),
        ...rightSeparators.map(sep),
        barText("\u2699", 1798, "#777", "15px 'DejaVu Sans'"),
      ],
    });

    return () => chart.dispose();
  }, []);
  return (
    <div
      ref={ref}
      style={{ position: "fixed", left: 0, top: 0, width: 1821, height: 824, background: "#fff" }}
    />
  );
}
